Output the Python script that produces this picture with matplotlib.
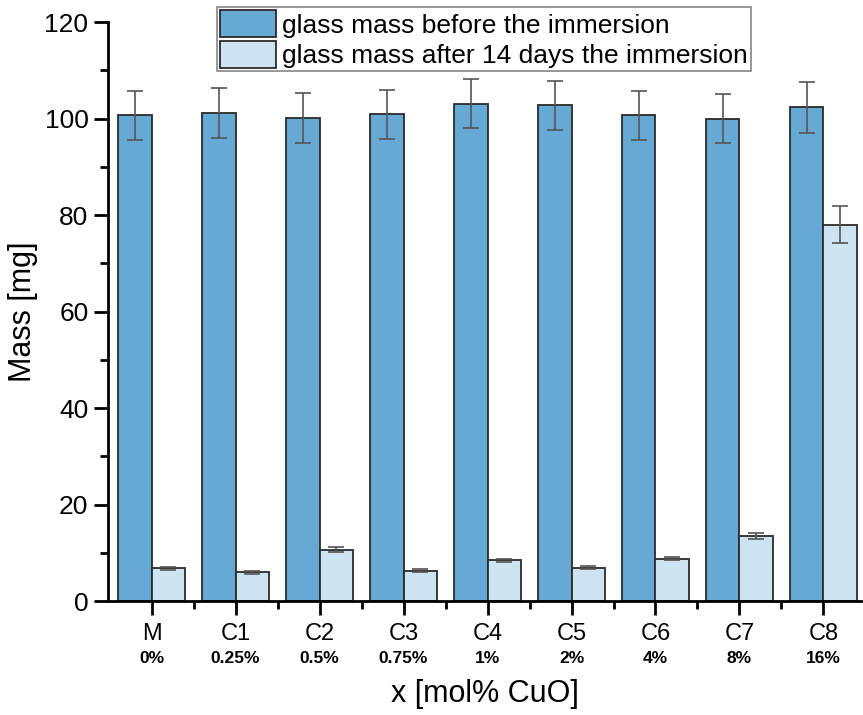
import numpy as np
import matplotlib.pyplot as plt
from matplotlib.ticker import MultipleLocator, FixedLocator
from matplotlib.transforms import blended_transform_factory

plt.rcParams['font.family'] = ['Liberation Sans', 'DejaVu Sans']

samples = ['M', 'C1', 'C2', 'C3', 'C4', 'C5', 'C6', 'C7', 'C8']
cuo_content = ['0%', '0.25%', '0.5%', '0.75%', '1%', '2%', '4%', '8%', '16%']
mass_before = [100.7, 101.1, 100.1, 100.9, 103.1, 102.7, 100.7, 100.0, 102.3]
err_before = [5.1, 5.2, 5.1, 5.1, 5.1, 5.1, 5.1, 5.1, 5.2]
mass_after = [6.8, 6.0, 10.6, 6.3, 8.4, 6.9, 8.8, 13.5, 78.0]
err_after = [0.3, 0.3, 0.5, 0.3, 0.4, 0.3, 0.4, 0.7, 3.9]

x = np.arange(len(samples))
w = 0.4

fig = plt.figure(figsize=(8.63, 7.15), dpi=100)
ax = fig.add_axes([0.125, 0.1594, 0.873, 0.8098])

err_kw = dict(ecolor='#555555', elinewidth=1.2, capsize=6, capthick=1.2)
ax.bar(x - w / 2, mass_before, w, yerr=err_before, color='#67a9d5',
       edgecolor='#2b2b2b', linewidth=1.3, error_kw=err_kw,
       label='glass mass before the immersion')
ax.bar(x + w / 2, mass_after, w, yerr=err_after, color='#cde3f1',
       edgecolor='#2b2b2b', linewidth=1.3, error_kw=err_kw,
       label='glass mass after 14 days the immersion')

ax.set_xlim(-0.52, 8.45)
ax.set_ylim(0, 120)

for side in ['top', 'right']:
    ax.spines[side].set_visible(False)
for side in ['left', 'bottom']:
    ax.spines[side].set_linewidth(2)

ax.yaxis.set_major_locator(MultipleLocator(20))
ax.yaxis.set_minor_locator(MultipleLocator(10))
ax.xaxis.set_major_locator(FixedLocator(x))
ax.xaxis.set_minor_locator(FixedLocator(x[:-1] + 0.5))
ax.tick_params(which='major', direction='out', length=10, width=2)
ax.tick_params(which='minor', direction='out', length=6, width=2)
ax.tick_params(axis='y', labelsize=19, pad=4)
ax.tick_params(axis='x', labelsize=17, pad=6)
ax.set_xticklabels(samples)

# composition under each sample name
trans = blended_transform_factory(ax.transData, ax.transAxes)
for xi, pct in zip(x, cuo_content):
    ax.text(xi, -0.099, pct, transform=trans, ha='center', va='center',
            fontsize=12.5, fontweight='bold')

ax.set_ylabel('Mass [mg]', fontsize=22, va='center')
ax.yaxis.set_label_coords(-0.112, 0.5)
ax.set_xlabel('x [mol% CuO]', fontsize=22, va='center')
ax.xaxis.set_label_coords(0.5, -0.161)

leg = ax.legend(loc='upper left', bbox_to_anchor=(0.145, 1.026), fontsize=19,
                frameon=True, fancybox=False, edgecolor='#666666',
                handlelength=2.1, handleheight=1.2, handletextpad=0.25,
                borderpad=0.12, labelspacing=0.12, borderaxespad=0)
leg.get_frame().set_linewidth(1.2)

fig.savefig('out.png', dpi=100)
